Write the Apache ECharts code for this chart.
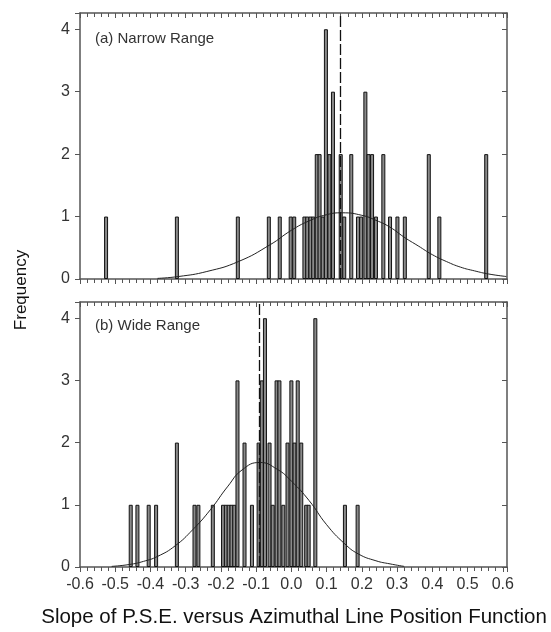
<!DOCTYPE html>
<html>
<head>
<meta charset="utf-8">
<script src="https://cdn.jsdelivr.net/npm/echarts@6.0.0/dist/echarts.min.js"></script>
<style>
  html, body { margin: 0; padding: 0; background: #fff; }
  #main { width: 551px; height: 632px; }
</style>
</head>
<body>
<div id="main"></div>
<script>
// (a) narrow range: slope value of each bar and its frequency
var narrowX = [-0.526, -0.325, -0.152, -0.064, -0.033, -0.002, 0.008, 0.037, 0.045, 0.054, 0.062,
  0.072, 0.080, 0.089, 0.098, 0.108, 0.118, 0.140, 0.150, 0.170, 0.189, 0.198, 0.210, 0.219,
  0.229, 0.240, 0.261, 0.280, 0.301, 0.322, 0.390, 0.420, 0.553];
var narrowCount = [1, 1, 1, 1, 1, 1, 1, 1, 1, 1, 1,
  2, 2, 1, 4, 2, 3, 2, 1, 2, 1, 1, 3, 2,
  2, 1, 2, 1, 1, 1, 2, 1, 2];

// (b) wide range
var wideX = [-0.456, -0.437, -0.405, -0.384, -0.325, -0.275, -0.264, -0.223, -0.194, -0.186,
  -0.178, -0.170, -0.162, -0.153, -0.133, -0.112, -0.093, -0.084, -0.075, -0.062, -0.053,
  -0.042, -0.034, -0.023, -0.011, 0.000, 0.009, 0.018, 0.028, 0.042, 0.049, 0.068, 0.152, 0.188];
var wideCount = [1, 1, 1, 1, 2, 1, 1, 1, 1, 1,
  1, 1, 1, 3, 2, 1, 2, 3, 4, 2, 1,
  3, 3, 1, 2, 3, 2, 3, 2, 1, 1, 4, 1, 1];

// fitted normal curves
var narrowCurveX = [-0.38, -0.32, -0.24, -0.15, -0.06, 0.00, 0.05, 0.10, 0.145, 0.20, 0.24, 0.28, 0.32, 0.36, 0.40, 0.44, 0.48, 0.52, 0.56, 0.61];
var narrowCurveY = [0.01, 0.04, 0.12, 0.28, 0.55, 0.78, 0.93, 1.03, 1.06, 1.02, 0.94, 0.83, 0.67, 0.53, 0.39, 0.28, 0.19, 0.13, 0.08, 0.04];
var wideCurveX = [-0.51, -0.46, -0.42, -0.38, -0.33, -0.28, -0.23, -0.18, -0.14, -0.09, -0.04, 0.00, 0.05, 0.10, 0.15, 0.19, 0.24, 0.28, 0.32];
var wideCurveY = [0.01, 0.04, 0.09, 0.17, 0.34, 0.60, 0.92, 1.30, 1.56, 1.68, 1.57, 1.38, 1.07, 0.68, 0.38, 0.21, 0.10, 0.05, 0.01];

var narrowMean = 0.145;
var wideMean = -0.087;

var xTickLabels = ['-0.6', '-0.5', '-0.4', '-0.3', '-0.2', '-0.1', '0.0', '0.1', '0.2', '0.3', '0.4', '0.5', '0.6'];
var yTickLabels = ['0', '1', '2', '3', '4'];

function pairs(xs, ys) {
    var out = [];
    for (var i = 0; i < xs.length; i++) out.push([xs[i], ys[i]]);
    return out;
}

var axisColor = '#555';
var labelFont = 'Liberation Sans, Arial, sans-serif';
var xMin = -0.6, xMax = 0.612;
var yMax = 4.26;

function xLabel(v) {
    var k = Math.round((v + 0.6) * 10);
    if (Math.abs((v + 0.6) * 10 - k) > 1e-6 || k < 0 || k >= xTickLabels.length) return '';
    return xTickLabels[k];
}
function yLabel(v) {
    if (Math.abs(v - Math.round(v)) > 1e-6) return '';
    return yTickLabels[Math.round(v)] || '';
}

function makeXAxis(grid, pos, showLabel) {
    return {
        type: 'value', gridIndex: grid, position: pos,
        min: xMin, max: xMax, interval: 0.1,
        axisLine: { show: true, onZero: false, lineStyle: { color: axisColor, width: 1.5 } },
        axisTick: { show: true, inside: pos === 'top', length: 5, lineStyle: { color: axisColor } },
        minorTick: { show: true, splitNumber: 5, length: 4, lineStyle: { color: axisColor } },
        splitLine: { show: false },
        axisLabel: {
            show: showLabel, margin: 10, fontSize: 16, color: '#333', fontFamily: labelFont,
            formatter: xLabel, showMaxLabel: true, showMinLabel: true
        }
    };
}
function makeYAxis(grid, pos) {
    return {
        type: 'value', gridIndex: grid, position: pos,
        min: 0, max: yMax, interval: 1,
        axisLine: { show: true, onZero: false, lineStyle: { color: axisColor, width: 1.5 } },
        axisTick: { show: true, inside: pos === 'right', length: 5, lineStyle: { color: axisColor } },
        splitLine: { show: false },
        axisLabel: {
            show: pos === 'left', margin: 10, fontSize: 16, color: '#333', fontFamily: labelFont,
            formatter: yLabel
        }
    };
}

function barSeries(axisIdx, xs, counts) {
    return {
        type: 'bar', xAxisIndex: axisIdx, yAxisIndex: axisIdx, z: 2,
        barWidth: 4,
        data: pairs(xs, counts),
        itemStyle: { color: '#8a8a8a', borderColor: '#111', borderWidth: 1 },
        silent: true
    };
}
function curveSeries(axisIdx, xs, ys) {
    return {
        type: 'line', xAxisIndex: axisIdx, yAxisIndex: axisIdx, z: 3,
        smooth: true, symbol: 'none',
        data: pairs(xs, ys),
        lineStyle: { color: '#222', width: 1 },
        silent: true
    };
}
function meanSeries(axisIdx, mean) {
    return {
        type: 'line', xAxisIndex: axisIdx, yAxisIndex: axisIdx, z: 1,
        data: [],
        markLine: {
            silent: true, symbol: 'none', label: { show: false },
            lineStyle: { color: '#111', type: [11, 3], width: 1.3 },
            data: [{ xAxis: mean }]
        }
    };
}

var chartDom = document.getElementById('main');
var myChart = echarts.init(chartDom, null, { renderer: 'canvas' });
var option;

option = {
    backgroundColor: '#fff',
    animation: false,
    grid: [
        { left: 80, top: 13, width: 427, height: 266 },
        { left: 80, top: 302, width: 427, height: 265 }
    ],
    // 0,1 = bottom axes (with data); 2,3 = top/right frame axes
    xAxis: [
        makeXAxis(0, 'bottom', false),
        makeXAxis(1, 'bottom', true),
        makeXAxis(0, 'top', false),
        makeXAxis(1, 'top', false)
    ],
    yAxis: [
        makeYAxis(0, 'left'),
        makeYAxis(1, 'left'),
        makeYAxis(0, 'right'),
        makeYAxis(1, 'right')
    ],
    graphic: [
        { type: 'text', left: 95, top: 31, style: { text: '(a) Narrow Range', font: '15px Liberation Sans, Arial, sans-serif', fill: '#333' } },
        { type: 'text', left: 95, top: 318, style: { text: '(b) Wide Range', font: '15px Liberation Sans, Arial, sans-serif', fill: '#333' } },
        { type: 'text', x: 21, y: 290, rotation: Math.PI / 2, style: { text: 'Frequency', font: '17px Liberation Sans, Arial, sans-serif', fill: '#111', align: 'center', verticalAlign: 'middle' } },
        { type: 'text', x: 294, y: 617, style: { text: 'Slope of P.S.E. versus Azimuthal Line Position Function', font: '20.5px Liberation Sans, Arial, sans-serif', fill: '#111', align: 'center', verticalAlign: 'middle' } }
    ],
    series: [
        meanSeries(0, narrowMean),
        barSeries(0, narrowX, narrowCount),
        curveSeries(0, narrowCurveX, narrowCurveY),
        meanSeries(1, wideMean),
        barSeries(1, wideX, wideCount),
        curveSeries(1, wideCurveX, wideCurveY)
    ]
};

option && myChart.setOption(option);
</script>
</body>
</html>
